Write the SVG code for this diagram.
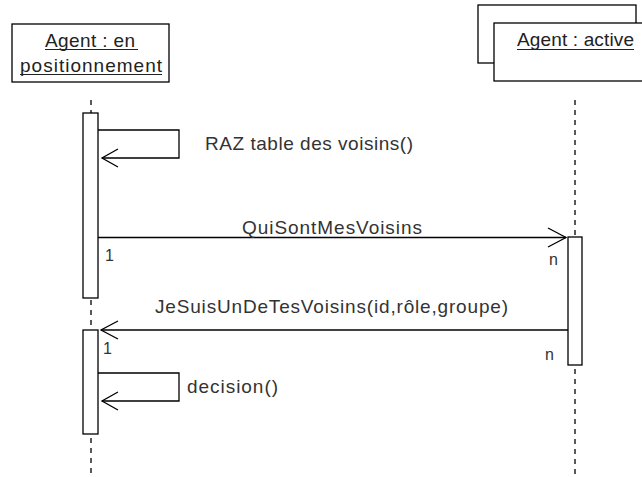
<svg xmlns="http://www.w3.org/2000/svg" width="642" height="477" viewBox="0 0 642 477">
<style>
.box{fill:#fff;stroke:#000;stroke-width:1.3}
.act{fill:#fff;stroke:#000;stroke-width:1.3}
.life{stroke:#000;stroke-width:1.3;stroke-dasharray:5,5;fill:none}
.msg{stroke:#000;stroke-width:1.3;fill:none}
.ul{stroke:#222;stroke-width:1.1}
.t{font-family:"Liberation Sans",Arial,sans-serif;font-size:19px;fill:#333}
.s{font-family:"Liberation Sans",Arial,sans-serif;font-size:16px;fill:#333}
.h{font-family:"Liberation Sans",Arial,sans-serif;font-size:19px;fill:#222}
</style>
<rect width="642" height="477" fill="#fff"/>
<g id="lifelines">
<line class="life" x1="91" y1="100" x2="91" y2="113"/>
<line class="life" x1="91" y1="300" x2="91" y2="330"/>
<line class="life" x1="91" y1="438" x2="91" y2="477"/>
<line class="life" x1="575" y1="100" x2="575" y2="237"/>
<line class="life" x1="575" y1="369" x2="575" y2="477"/>
</g>
<g id="agent-positionnement">
<rect class="box" x="12" y="24" width="157" height="58"/>
<text class="h" x="45" y="47" textLength="90" lengthAdjust="spacing">Agent : en</text>
<line class="ul" x1="45" y1="49.5" x2="138" y2="49.5"/>
<text class="h" x="20" y="72" textLength="142" lengthAdjust="spacing">positionnement</text>
<line class="ul" x1="20" y1="74.5" x2="162" y2="74.5"/>
</g>
<g id="agent-active">
<rect class="box" x="478" y="5" width="158" height="58"/>
<rect class="box" x="494" y="23" width="160" height="58"/>
<text class="h" x="517" y="46" textLength="117" lengthAdjust="spacing">Agent : active</text>
<line class="ul" x1="517" y1="49.5" x2="634" y2="49.5"/>
</g>
<g id="activations">
<rect class="act" x="83" y="113" width="15" height="185"/>
<rect class="act" x="83" y="330" width="15" height="104"/>
<rect class="act" x="568" y="237" width="14" height="128"/>
</g>
<g id="connectors">
<polyline class="msg" points="98,130 179,130 179,158 102,158"/>
<polyline class="msg" points="118,149 102,158 118,167"/>
<line class="msg" x1="98" y1="237.5" x2="566" y2="237.5"/>
<polyline class="msg" points="548,228 566,237.5 548,247"/>
<line class="msg" x1="568" y1="330" x2="101" y2="330"/>
<polyline class="msg" points="118,321 101,330 118,339"/>
<polyline class="msg" points="98,373 179,373 179,401 102,401"/>
<polyline class="msg" points="118,392 102,401 118,410"/>
</g>
<g id="labels">
<text class="t" x="205" y="150" textLength="208" lengthAdjust="spacing">RAZ table des voisins()</text>
<text class="t" x="242" y="234" textLength="180" lengthAdjust="spacing">QuiSontMesVoisins</text>
<text class="t" x="155" y="313" textLength="353" lengthAdjust="spacing">JeSuisUnDeTesVoisins(id,rôle,groupe)</text>
<text class="t" x="187" y="393" textLength="91" lengthAdjust="spacing">decision()</text>
<text class="s" x="105" y="261">1</text>
<text class="s" x="549" y="265">n</text>
<text class="s" x="103" y="354">1</text>
<text class="s" x="545" y="360">n</text>
</g>
</svg>
